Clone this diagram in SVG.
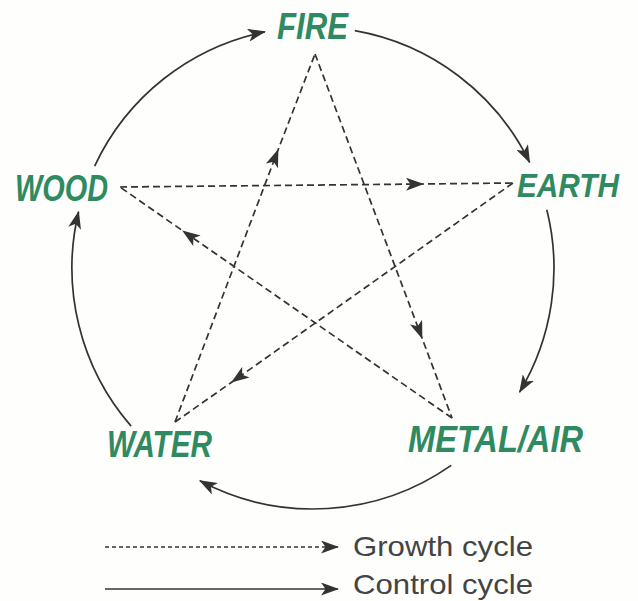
<svg xmlns="http://www.w3.org/2000/svg" width="638" height="601" viewBox="0 0 638 601">
<style>
.lbl{font-family:"Liberation Sans",Arial,sans-serif;font-weight:bold;font-style:italic;font-size:36px;fill:#2f8a62}
.leg{font-family:"Liberation Sans",Arial,sans-serif;font-size:28px;fill:#444}
.dash{fill:none;stroke:#333;stroke-width:1.7;stroke-dasharray:7 4}
.solid{fill:none;stroke:#333;stroke-width:1.7}
</style>
<defs>
<marker id="ah" viewBox="0 0 18 13" refX="17" refY="6.5" markerWidth="18" markerHeight="13" markerUnits="userSpaceOnUse" orient="auto">
<path d="M0,0 L18,6.5 L0,13 L4.5,6.5 Z" fill="#333"/>
</marker>
</defs>
<rect width="638" height="601" fill="#fefefc"/>
<g id="connectors">
<g id="control">
<path class="solid" d="M131.1,426.1 A241,241 0 0 1 78.6,211.7" marker-end="url(#ah)"/>
<path class="solid" d="M94.6,166.2 A241,241 0 0 1 264.9,31.8" marker-end="url(#ah)"/>
<path class="solid" d="M354.8,30.7 A241,241 0 0 1 529.6,162.3" marker-end="url(#ah)"/>
<path class="solid" d="M546.8,209.7 A241,241 0 0 1 519.6,392.1" marker-end="url(#ah)"/>
<path class="solid" d="M451.2,465.4 A241,241 0 0 1 199.9,480.8" marker-end="url(#ah)"/>
</g>
<g id="growth">
<path class="dash" d="M120,187 L423,184 L513,183" marker-mid="url(#ah)"/>
<path class="dash" d="M315,54 L422,338 L452,418" marker-mid="url(#ah)"/>
<path class="dash" d="M452,418 L183,231 L120,187" marker-mid="url(#ah)"/>
<path class="dash" d="M513,183 L232,382 L175,422" marker-mid="url(#ah)"/>
<path class="dash" d="M175,422 L278,150 L315,54" marker-mid="url(#ah)"/>
</g>
</g>
<g id="fire"><text class="lbl" x="277" y="39" textLength="71" lengthAdjust="spacingAndGlyphs">FIRE</text></g>
<g id="wood"><text class="lbl" x="15" y="201" textLength="93" lengthAdjust="spacingAndGlyphs">WOOD</text></g>
<g id="earth"><text class="lbl" x="517" y="197" textLength="102" lengthAdjust="spacingAndGlyphs" style="font-size:33px">EARTH</text></g>
<g id="water"><text class="lbl" x="107" y="457" textLength="105" lengthAdjust="spacingAndGlyphs">WATER</text></g>
<g id="metal"><text class="lbl" x="408" y="452" textLength="175" lengthAdjust="spacingAndGlyphs">METAL/AIR</text></g>
<g id="legend">
<path d="M105,547 L338,547" fill="none" stroke="#333" stroke-width="1.4" stroke-dasharray="4 3" marker-end="url(#ah)"/>
<text class="leg" x="353" y="556" textLength="180" lengthAdjust="spacingAndGlyphs">Growth cycle</text>
<path class="solid" d="M105,589 L338,589" marker-end="url(#ah)"/>
<text class="leg" x="353" y="594" textLength="180" lengthAdjust="spacingAndGlyphs">Control cycle</text>
</g>
</svg>
